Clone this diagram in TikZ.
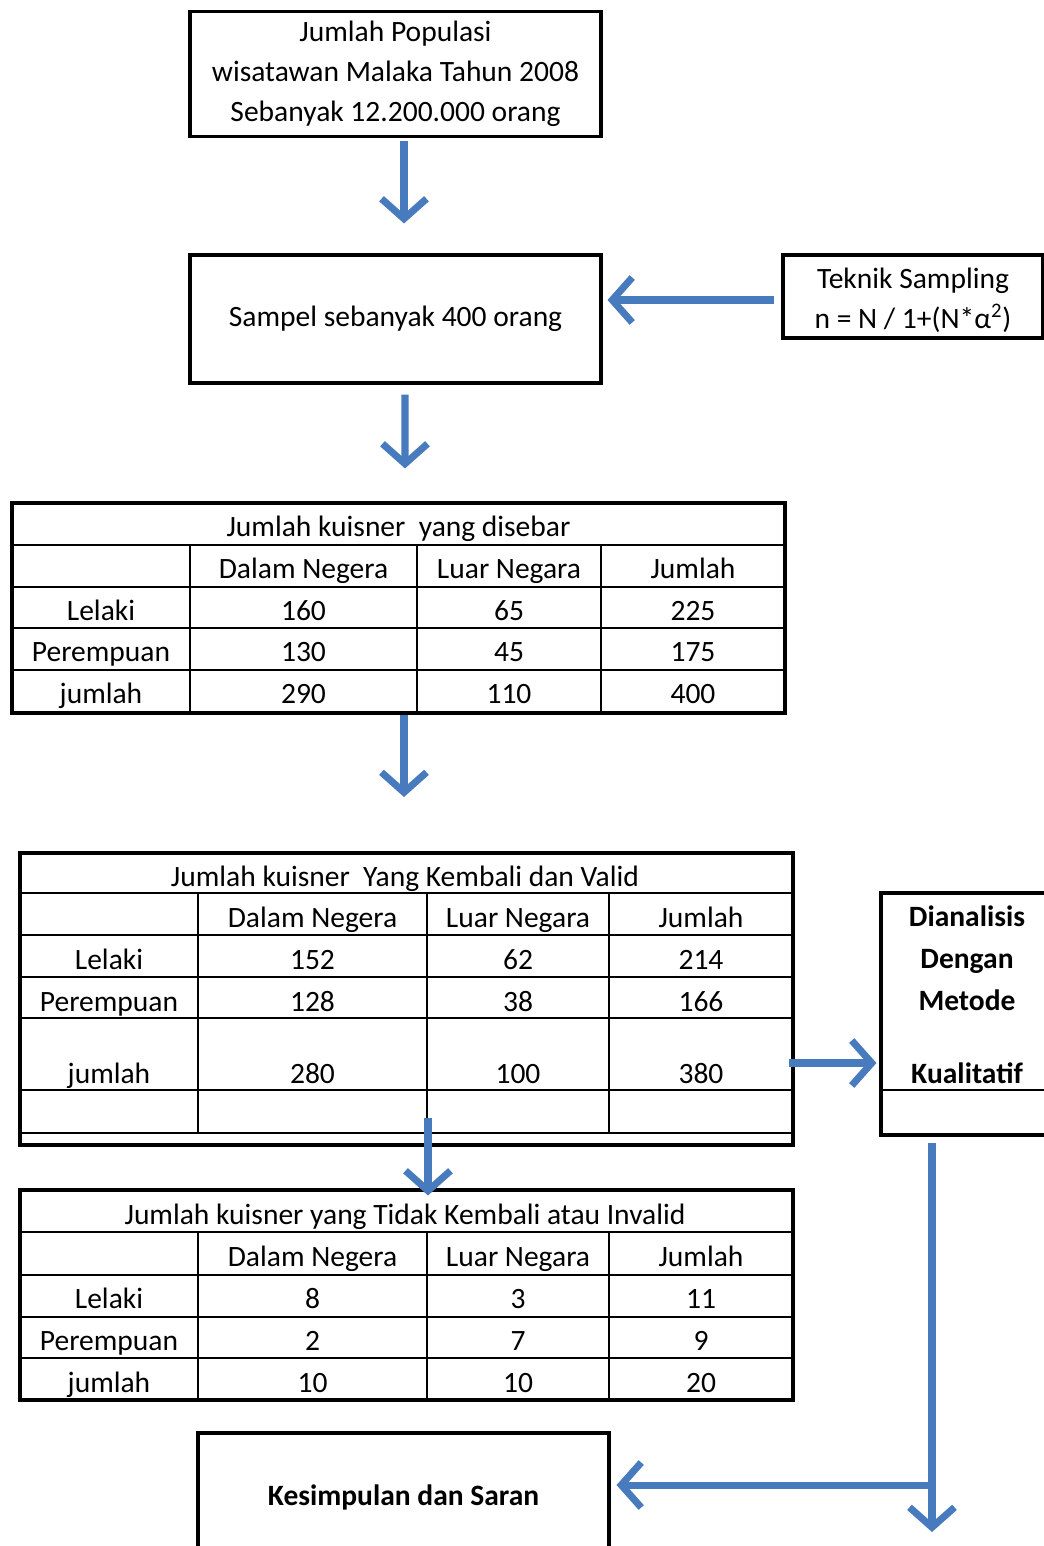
\documentclass[tikz,border=0pt]{standalone}
\usepackage{fontspec}
\setmainfont{Carlito}
\usetikzlibrary{arrows.meta,positioning}
\definecolor{biru}{RGB}{72,122,190}
\tikzset{
  kotak/.style={draw, line width=1.8pt, minimum width=8.22cm, minimum height=2.5cm, align=center, inner sep=0pt},
  tabel/.style={draw, line width=1.8pt, minimum width=15.46cm, inner sep=0pt},
  garis/.style={line width=1.6pt},
  panah/.style={draw=biru, line width=4pt, -{Straight Barb[length=4mm,width=9mm]}},
  isi/.style={inner sep=0pt, text height=14pt, text depth=2pt}
}

\begin{document}
\begin{tikzpicture}[x=0.02cm, y=-0.02cm, font=\fontsize{16.8}{22.7}\selectfont]
\useasboundingbox (0,0) rectangle (1044,1546);

% kotak atas
\node[kotak] (populasi) at (395.5,74) {Jumlah Populasi\\wisatawan Malaka Tahun 2008\\Sebanyak 12.200.000 orang};
\node[kotak, minimum height=2.56cm] (sampel) at (395.5,319) {Sampel sebanyak 400 orang};
\node[kotak, minimum width=5.2cm, minimum height=1.66cm] (teknik) at (913,296.5) {};
\node[inner sep=0pt, align=center] (teknik-teks) at (913,300) {Teknik Sampling\\n = N / 1+(N*α\textsuperscript{2})};

\draw[panah, shorten <=0.06cm, shorten >=0.6cm] ([xshift=0.17cm]populasi.south) -- ([xshift=0.17cm]sampel.north);
\draw[panah, shorten <=0.14cm, shorten >=0.1cm] ([yshift=-0.07cm]teknik.west) -- ([yshift=-0.07cm]teknik.west -| sampel.east);

% tabel disebar
\node[tabel, minimum height=4.2cm] (tabA) at (398.5,608) {};
\foreach \y in {545,587,628,670} \draw[garis] (12,\y) -- (785,\y);
\foreach \x in {190,417,601} \draw[garis] (\x,545) -- (\x,713);
\node[isi] (ja-judul) at (398.5,526) {Jumlah kuisner~ yang disebar};
\node[isi] (ja-dn) at (303.5,568) {Dalam Negera};
\node[isi] (ja-ln) at (509,568) {Luar Negara};
\node[isi] (ja-jm) at (693,568) {Jumlah};
\foreach \nm/\y/\a/\b/\c/\d in {lk/610/Lelaki/160/65/225, pr/651/Perempuan/130/45/175, jl/693/jumlah/290/110/400} {
  \node[isi] (ja-\nm-1) at (101,\y) {\a};
  \node[isi] (ja-\nm-2) at (303.5,\y) {\b};
  \node[isi] (ja-\nm-3) at (509,\y) {\c};
  \node[isi] (ja-\nm-4) at (693,\y) {\d};
}
\draw[panah, shorten <=0.2cm, shorten >=0.66cm] ([xshift=0.19cm]sampel.south) -- ([xshift=0.13cm]tabA.north);
\draw[panah, shorten >=1.12cm] ([xshift=0.11cm]tabA.south) -- ([xshift=0.11cm]tabA.south |- 0,853);

% tabel kembali dan valid
\node[tabel, minimum height=5.84cm] (tabB) at (406.5,999) {};
\foreach \y in {893,935,977,1018,1090,1133} \draw[garis] (20,\y) -- (793,\y);
\foreach \x in {198,427,609} \draw[garis] (\x,893) -- (\x,1133);
\node[isi] (jb-judul) at (405,876) {Jumlah kuisner~ Yang Kembali dan Valid};
\node[isi] (jb-dn) at (312.5,917) {Dalam Negera};
\node[isi] (jb-ln) at (518,917) {Luar Negara};
\node[isi] (jb-jm) at (701,917) {Jumlah};
\foreach \nm/\y/\a/\b/\c/\d in {lk/959/Lelaki/152/62/214, pr/1001/Perempuan/128/38/166, jl/1073/jumlah/280/100/380} {
  \node[isi] (jb-\nm-1) at (109,\y) {\a};
  \node[isi] (jb-\nm-2) at (312.5,\y) {\b};
  \node[isi] (jb-\nm-3) at (518,\y) {\c};
  \node[isi] (jb-\nm-4) at (701,\y) {\d};
}

% kotak analisis
\node[draw, line width=1.8pt, minimum width=3.78cm, minimum height=4.84cm] (analisis) at (975.5,1014) {};
\draw[garis] (881,1090) -- (1070,1090);
\node[inner sep=0pt, align=center, font=\fontsize{16.8}{23.8}\selectfont\bfseries] (analisis-teks) at (967,995) {Dianalisis\\Dengan\\Metode\\[18pt]Kualitatif};
\draw[panah, shorten <=-0.12cm, shorten >=0.06cm] ([yshift=-1.28cm]tabB.east) -- ([yshift=-1.28cm]tabB.east -| analisis.west);

% tabel tidak kembali
\node[tabel, minimum height=4.2cm] (tabC) at (406.5,1295) {};
\foreach \y in {1232,1275,1317,1358} \draw[garis] (20,\y) -- (793,\y);
\foreach \x in {198,427,609} \draw[garis] (\x,1232) -- (\x,1400);
\node[isi] (jc-judul) at (405,1214) {Jumlah kuisner yang Tidak Kembali atau Invalid};
\node[isi] (jc-dn) at (312.5,1256) {Dalam Negera};
\node[isi] (jc-ln) at (518,1256) {Luar Negara};
\node[isi] (jc-jm) at (701,1256) {Jumlah};
\foreach \nm/\y/\a/\b/\c/\d in {lk/1298/Lelaki/8/3/11, pr/1340/Perempuan/2/7/9, jl/1382/jumlah/10/10/20} {
  \node[isi] (jc-\nm-1) at (109,\y) {\a};
  \node[isi] (jc-\nm-2) at (312.5,\y) {\b};
  \node[isi] (jc-\nm-3) at (518,\y) {\c};
  \node[isi] (jc-\nm-4) at (701,\y) {\d};
}
\coordinate (pecah) at (428,1118);
\draw[panah, shorten >=-0.14cm] (pecah) -- (pecah |- tabC.north);

% kesimpulan
\node[kotak, minimum height=2.56cm, font=\fontsize{16.8}{22.7}\selectfont\bfseries] (kesimpulan) at (403.5,1497) {Kesimpulan dan Saran};
\coordinate (turun) at (932,1143);
\coordinate (cabang) at (932,1485);
\coordinate (ujung) at (932,1532);
\draw[panah] (turun) -- (ujung);
\draw[panah, shorten >=0.12cm] (cabang) -- (cabang -| kesimpulan.east);
\end{tikzpicture}
\end{document}
